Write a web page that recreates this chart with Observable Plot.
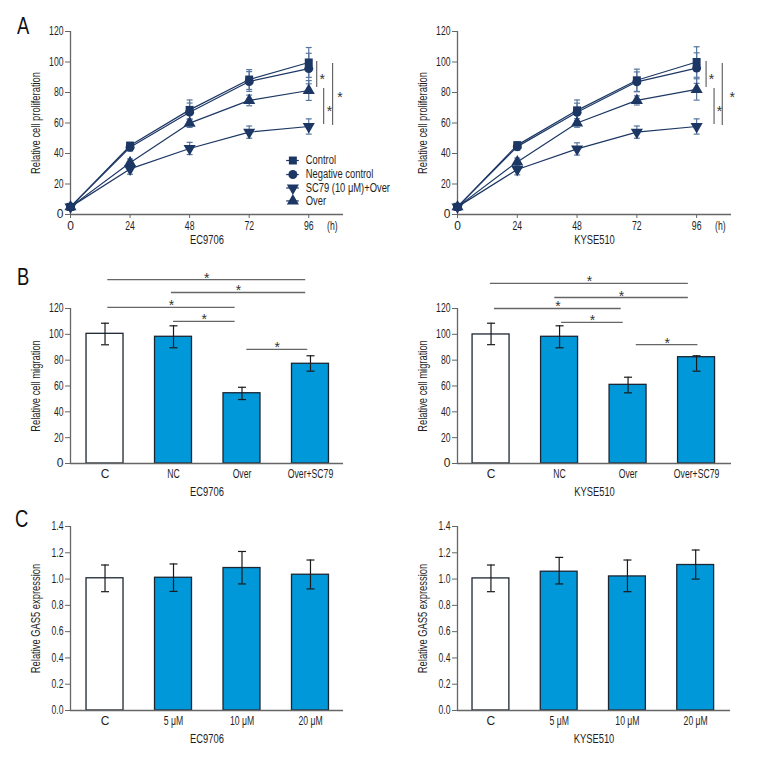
<!DOCTYPE html>
<html><head><meta charset="utf-8">
<script src="https://cdn.jsdelivr.net/npm/d3@7"></script>
<script src="https://cdn.jsdelivr.net/npm/@observablehq/plot@0.6"></script>
<style>
html,body{margin:0;padding:0;background:#fff;}
#fig{position:relative;width:762px;height:768px;overflow:hidden;font-family:"Liberation Sans",Arial,sans-serif;}
.letter{position:absolute;font-size:23px;line-height:1;color:#111;transform:scaleX(0.8);transform-origin:left top;}
</style></head>
<body><div id="fig"></div>
<script>
// ---------- Panel A: proliferation ----------
const hours = [0, 24, 48, 72, 96];
const unitTick = [105.5];
const seriesNames = ["Control", "Negative control", "SC79 (10 μM)+Over", "Over"];
// EC9706 means and SD
const ecCtrl = [5, 45.2, 68.6, 88.5, 99.7];
const ecCtrlSd = [2, 2, 6.5, 6.5, 9.8];
const ecNc = [5, 44.1, 67.1, 87.2, 95.7];
const ecNcSd = [2, 2.5, 6, 6.5, 10];
const ecSc = [5, 29.9, 43.3, 54, 57.7];
const ecScSd = [2, 3.5, 4, 4, 5];
const ecOver = [5, 33.9, 59.9, 74.8, 81.3];
const ecOverSd = [2, 2.5, 2.8, 3.5, 6.5];
// KYSE510 means and SD
const kyCtrl = [5, 45.5, 68.3, 88, 100];
const kyCtrlSd = [2, 2, 6.8, 7.3, 10];
const kyNc = [5, 44.5, 67, 87, 96];
const kyNcSd = [2, 2.5, 6, 6.5, 10];
const kySc = [5, 29.5, 43, 54, 57.7];
const kyScSd = [2, 3.5, 4, 4, 5];
const kyOver = [5, 34.5, 60, 74.8, 82];
const kyOverSd = [2, 2.5, 2.8, 3, 7];
// significance brackets (data units)
const ecBrackets = [
  {x: 99.2, y1: 100.3, y2: 83.3, sx: 101.4, sy: 91},
  {x: 102, y1: 82.6, y2: 59, sx: 104.3, sy: 70},
  {x: 105.6, y1: 99, y2: 58.4, sx: 108.6, sy: 79}
];
const kyBrackets = [
  {x: 99.8, y1: 100.3, y2: 83.3, sx: 102, sy: 91},
  {x: 103, y1: 82.6, y2: 59, sx: 105.2, sy: 70},
  {x: 106.3, y1: 99, y2: 58.4, sx: 110.3, sy: 79}
];
const legendY = [35.4, 26.2, 17.4, 8.9];

// ---------- Panel B: migration ----------
const migCats = ["C", "NC", "Over", "Over+SC79"];
const ecMig = [100.4, 98.1, 54.4, 77.2];
const ecMigLo = [91.9, 89.6, 49.5, 71.5];
const ecMigHi = [108.6, 106.6, 59, 83.4];
const kyMig = [99.9, 98.1, 60.9, 82.3];
const kyMigLo = [92, 89.6, 54.7, 71.5];
const kyMigHi = [108.6, 106.6, 66.8, 83.4];
const ecMigSig = [
  {x1: 0.04, x2: 2.93, y: 142.4},
  {x1: 0.97, x2: 2.93, y: 132.4},
  {x1: 0.04, x2: 1.9, y: 120.8},
  {x1: 1.0, x2: 1.9, y: 110},
  {x1: 2.07, x2: 2.96, y: 88.3}
];
const kyMigSig = [
  {x1: -0.01, x2: 2.88, y: 139.4},
  {x1: 0.93, x2: 2.88, y: 128.5},
  {x1: 0.05, x2: 1.9, y: 120},
  {x1: 1.03, x2: 1.93, y: 109.2},
  {x1: 2.12, x2: 3.02, y: 92.1}
];

// ---------- Panel C: GAS5 expression ----------
const doseCats = ["C", "5 μM", "10 μM", "20 μM"];
const ecGas5 = [1.006, 1.01, 1.084, 1.033];
const ecGas5Lo = [0.904, 0.906, 0.963, 0.925];
const ecGas5Hi = [1.107, 1.115, 1.21, 1.145];
const kyGas5 = [1.005, 1.056, 1.02, 1.107];
const kyGas5Lo = [0.904, 0.963, 0.904, 1.0];
const kyGas5Hi = [1.107, 1.165, 1.145, 1.221];

// ---------- styling ----------
const FONT = '"Liberation Sans",Arial,sans-serif';
const NAVY = "#1c3764";
const ERR = "#5877a0";
const BLUE = "#0098d8";
const OUTLINE = "#1b2633";
const DARK = "#1a1a1a";
const GREY = "#666";
const HALF = 0.27;
const cap = {draw(ctx, size) {const w = Math.sqrt(size / Math.PI); ctx.moveTo(-w, 0); ctx.lineTo(w, 0);}};
const baseStyle = {fontFamily: FONT, fontSize: "12px", background: "transparent", overflow: "visible", color: "#1e1e1e"};

const fig = document.getElementById("fig");
function place(el, left, top) {
  el.style.position = "absolute";
  el.style.left = left + "px";
  el.style.top = top + "px";
  fig.appendChild(el);
}

function growthPanel({means, sds, label, marginLeft, marginRight, brackets, legend}) {
  const rows = [];
  seriesNames.forEach((s, k) => hours.forEach((h, j) => rows.push({
    series: s, h, v: means[k][j], lo: means[k][j] - sds[k][j], hi: means[k][j] + sds[k][j]
  })));
  const rot = d => d.series === seriesNames[2] ? 180 : 0;
  const marks = [
    Plot.ruleY([0], {stroke: GREY, strokeWidth: 1.3}),
    Plot.ruleX([0], {y1: 0, y2: 120, stroke: GREY, strokeWidth: 1.3}),
    Plot.axisY({ticks: d3.range(0, 121, 20), tickSize: 5, tickPadding: 2, stroke: GREY,
      label: "Relative cell proliferation", labelAnchor: "center", labelArrow: "none", labelOffset: 39}),
    Plot.axisX({ticks: hours, tickSize: 4, tickPadding: 3, stroke: GREY,
      label, labelAnchor: "center", labelArrow: "none", labelOffset: 29}),
    Plot.axisX({ticks: unitTick, tickSize: 0, tickPadding: 7, tickFormat: () => "(h)", label: null}),
    Plot.line(rows, {x: "h", y: "v", z: "series", stroke: NAVY, strokeWidth: 1.2}),
    Plot.ruleX(rows, {x: "h", y1: "lo", y2: "hi", stroke: ERR, strokeWidth: 1.2}),
    Plot.dot(rows, {x: "h", y: "lo", symbol: cap, r: 3, stroke: ERR, strokeWidth: 1.2}),
    Plot.dot(rows, {x: "h", y: "hi", symbol: cap, r: 3, stroke: ERR, strokeWidth: 1.2}),
    Plot.dot(rows, {x: "h", y: "v", symbol: "series", fill: NAVY, r: 4.5, rotate: rot}),
    Plot.ruleX(brackets, {x: "x", y1: "y1", y2: "y2", stroke: GREY, strokeWidth: 1.2}),
    Plot.text(brackets, {x: "sx", y: "sy", text: () => "*", fontSize: 14, dy: 3.5, fill: "#333"})
  ];
  if (legend) {
    const lrows = seriesNames.map((s, i) => ({series: s, y: legendY[i]}));
    marks.push(
      Plot.ruleY(lrows, {y: "y", x1: 87.1, x2: 92.2, stroke: NAVY, strokeWidth: 1.2}),
      Plot.dot(lrows, {x: 89.6, y: "y", symbol: "series", fill: NAVY, r: 4.5, rotate: rot}),
      Plot.text(lrows, {x: 94.8, y: "y", text: "series", textAnchor: "start", fontSize: 12, fill: "#1e1e1e"})
    );
  }
  return Plot.plot({
    width: 381, height: 250,
    marginTop: 31, marginBottom: 36, marginLeft, marginRight,
    x: {domain: [0, 110]},
    y: {domain: [0, 120]},
    symbol: {domain: seriesNames, range: ["square", "circle", "triangle", "triangle"]},
    style: baseStyle,
    marks
  });
}

function barPanel({cats, means, lo, hi, yMax, yTicks, yFormat, yLabel, label, height, marginTop, marginBottom, marginLeft, marginRight, xDomain, sig}) {
  const rows = cats.map((c, i) => ({i, cat: c, v: means[i], lo: lo[i], hi: hi[i]}));
  const marks = [
    Plot.rect(rows.slice(0, 1), {x1: d => d.i - HALF, x2: d => d.i + HALF, y1: 0, y2: "v", fill: "white", stroke: OUTLINE, strokeWidth: 1.3}),
    Plot.rect(rows.slice(1), {x1: d => d.i - HALF, x2: d => d.i + HALF, y1: 0, y2: "v", fill: BLUE, stroke: OUTLINE, strokeWidth: 1.3}),
    Plot.ruleY([0], {stroke: GREY, strokeWidth: 1.3}),
    Plot.ruleX([xDomain[0]], {y1: 0, y2: yMax, stroke: GREY, strokeWidth: 1.3}),
    Plot.axisY({ticks: yTicks, tickFormat: yFormat, tickSize: 5, tickPadding: 2, stroke: GREY,
      label: yLabel, labelAnchor: "center", labelArrow: "none", labelOffset: 39}),
    Plot.axisX({ticks: cats.map((c, i) => i), tickFormat: i => cats[i], tickSize: 0, tickPadding: 6,
      label, labelAnchor: "center", labelArrow: "none", labelOffset: 32}),
    Plot.ruleX(rows, {x: "i", y1: "lo", y2: "hi", stroke: DARK, strokeWidth: 1.2}),
    Plot.dot(rows, {x: "i", y: "lo", symbol: cap, r: 4, stroke: DARK, strokeWidth: 1.2}),
    Plot.dot(rows, {x: "i", y: "hi", symbol: cap, r: 4, stroke: DARK, strokeWidth: 1.2})
  ];
  if (sig) {
    marks.push(
      Plot.ruleY(sig, {y: "y", x1: "x1", x2: "x2", stroke: GREY, strokeWidth: 1.3}),
      Plot.text(sig, {x: d => (d.x1 + d.x2) / 2, y: "y", text: () => "*", fontSize: 14, dy: -1.5, fill: "#333"})
    );
  }
  return Plot.plot({
    width: 381, height,
    marginTop, marginBottom, marginLeft, marginRight,
    x: {domain: xDomain},
    y: {domain: [0, yMax]},
    style: baseStyle,
    marks
  });
}

// Panel A
place(growthPanel({
  means: [kyCtrl, kyNc, kySc, kyOver], sds: [kyCtrlSd, kyNcSd, kyScSd, kyOverSd],
  label: "KYSE510", marginLeft: 76, marginRight: 31, brackets: kyBrackets, legend: false
}), 381, 0);
place(growthPanel({
  means: [ecCtrl, ecNc, ecSc, ecOver], sds: [ecCtrlSd, ecNcSd, ecScSd, ecOverSd],
  label: "EC9706", marginLeft: 70, marginRight: 38, brackets: ecBrackets, legend: true
}), 0, 0);

// Panel B
const migTicks = d3.range(0, 121, 20);
place(barPanel({
  cats: migCats, means: ecMig, lo: ecMigLo, hi: ecMigHi, yMax: 120, yTicks: migTicks, yFormat: d3.format("d"),
  yLabel: "Relative cell migration", label: "EC9706", height: 250, marginTop: 58, marginBottom: 37,
  marginLeft: 70, marginRight: 38, xDomain: [-0.504, 3.482], sig: ecMigSig
}), 0, 250);
place(barPanel({
  cats: migCats, means: kyMig, lo: kyMigLo, hi: kyMigHi, yMax: 120, yTicks: migTicks, yFormat: d3.format("d"),
  yLabel: "Relative cell migration", label: "KYSE510", height: 250, marginTop: 58, marginBottom: 37,
  marginLeft: 76, marginRight: 31, xDomain: [-0.49, 3.51], sig: kyMigSig
}), 381, 250);

// Panel C
const gasTicks = [0, 0.2, 0.4, 0.6, 0.8, 1.0, 1.2, 1.4];
place(barPanel({
  cats: doseCats, means: ecGas5, lo: ecGas5Lo, hi: ecGas5Hi, yMax: 1.4, yTicks: gasTicks, yFormat: d3.format(".1f"),
  yLabel: "Relative GAS5 expression", label: "EC9706", height: 268, marginTop: 26, marginBottom: 58,
  marginLeft: 70, marginRight: 38, xDomain: [-0.504, 3.482], sig: null
}), 0, 500);
place(barPanel({
  cats: doseCats, means: kyGas5, lo: kyGas5Lo, hi: kyGas5Hi, yMax: 1.4, yTicks: gasTicks, yFormat: d3.format(".1f"),
  yLabel: "Relative GAS5 expression", label: "KYSE510", height: 268, marginTop: 26, marginBottom: 58,
  marginLeft: 76, marginRight: 32, xDomain: [-0.49, 3.51], sig: null
}), 381, 500);

// condensed lettering (the original uses a condensed face)
document.querySelectorAll("#fig svg text").forEach(t => {
  const s = t.textContent;
  if (s.length < 2) return;
  const g = t.closest("g[aria-label]");
  const isTick = g && /tick label/.test(g.getAttribute("aria-label") || "");
  const L = t.getComputedTextLength();
  t.setAttribute("textLength", (L * (isTick ? 0.72 : 0.78)).toFixed(1));
  t.setAttribute("lengthAdjust", "spacingAndGlyphs");
});

// panel letters
[["A", 17, 15], ["B", 17, 266], ["C", 15, 508]].forEach(([t, x, y]) => {
  const d = document.createElement("div");
  d.className = "letter";
  d.textContent = t;
  d.style.left = x + "px";
  d.style.top = y + "px";
  fig.appendChild(d);
});
</script>
</body></html>
